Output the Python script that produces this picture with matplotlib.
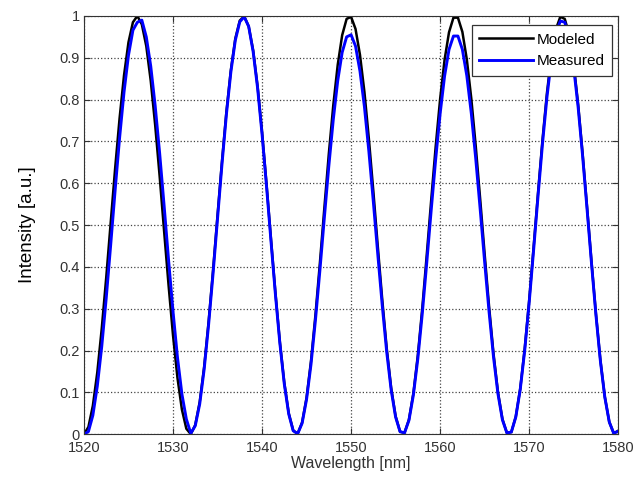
import numpy as np
import matplotlib
matplotlib.use('Agg')
import matplotlib.pyplot as plt

plt.rcParams['font.family'] = ['Liberation Sans', 'DejaVu Sans']

# wavelength samples [nm], 0.5 nm step
wavelength = [1520.0 + 0.5 * i for i in range(121)]

# values
modeled = [
    0.000, 0.017, 0.068, 0.148, 0.253, 0.374, 0.505, 0.635, 0.755, 0.858, 0.937, 0.985,
    1.000, 0.980, 0.928, 0.845, 0.739, 0.617, 0.486, 0.357, 0.237, 0.135, 0.059, 0.013,
    0.000, 0.022, 0.077, 0.161, 0.269, 0.392, 0.523, 0.652, 0.771, 0.871, 0.946, 0.989,
    0.999, 0.975, 0.918, 0.832, 0.723, 0.599, 0.468, 0.339, 0.221, 0.123, 0.050, 0.009,
    0.001, 0.028, 0.087, 0.175, 0.285, 0.410, 0.541, 0.670, 0.786, 0.883, 0.954, 0.993,
    0.998, 0.969, 0.907, 0.818, 0.706, 0.581, 0.449, 0.322, 0.206, 0.111, 0.043, 0.006,
    0.003, 0.035, 0.098, 0.189, 0.302, 0.429, 0.560, 0.687, 0.801, 0.895, 0.961, 0.996,
    0.996, 0.962, 0.896, 0.803, 0.689, 0.562, 0.431, 0.305, 0.192, 0.100, 0.036, 0.003,
    0.005, 0.042, 0.109, 0.204, 0.319, 0.447, 0.578, 0.704, 0.816, 0.906, 0.968, 0.998,
    0.993, 0.955, 0.885, 0.789, 0.672, 0.544, 0.413, 0.288, 0.177, 0.089, 0.029, 0.002,
    0.008,
]

measured = [
    0.000, 0.006, 0.045, 0.115, 0.210, 0.325, 0.452, 0.583, 0.708, 0.818, 0.906, 0.966,
    0.985, 0.990, 0.950, 0.880, 0.785, 0.672, 0.547, 0.417, 0.294, 0.184, 0.096, 0.036,
    0.002, 0.020, 0.072, 0.155, 0.262, 0.384, 0.515, 0.645, 0.765, 0.866, 0.942, 0.986,
    0.998, 0.975, 0.915, 0.828, 0.718, 0.594, 0.463, 0.335, 0.218, 0.120, 0.048, 0.008,
    0.001, 0.026, 0.083, 0.167, 0.273, 0.392, 0.518, 0.641, 0.752, 0.845, 0.913, 0.950,
    0.955, 0.928, 0.868, 0.783, 0.676, 0.556, 0.430, 0.308, 0.197, 0.106, 0.041, 0.006,
    0.003, 0.033, 0.094, 0.181, 0.289, 0.410, 0.536, 0.657, 0.766, 0.856, 0.920, 0.952,
    0.952, 0.920, 0.857, 0.768, 0.659, 0.538, 0.412, 0.292, 0.184, 0.096, 0.034, 0.003,
    0.005, 0.041, 0.107, 0.200, 0.314, 0.440, 0.570, 0.695, 0.806, 0.896, 0.958, 0.988,
    0.985, 0.947, 0.877, 0.782, 0.666, 0.539, 0.409, 0.285, 0.175, 0.088, 0.029, 0.002,
    0.007,
]

xticks = [1520, 1530, 1540, 1550, 1560, 1570, 1580]
yticks = [0, 0.1, 0.2, 0.3, 0.4, 0.5, 0.6, 0.7, 0.8, 0.9, 1]
ytick_labels = ['0', '0.1', '0.2', '0.3', '0.4', '0.5', '0.6', '0.7', '0.8', '0.9', '1']

fig = plt.figure(figsize=(6.36, 4.84), dpi=100)
ax = fig.add_axes([0.132, 0.103, 0.840, 0.864])

ax.plot(wavelength, modeled, color='black', lw=1.8, label='Modeled',
        solid_joinstyle='round')
ax.plot(wavelength, measured, color='blue', lw=2.1, label='Measured',
        solid_joinstyle='round')

ax.set_xlim(1520, 1580)
ax.set_ylim(0, 1)
ax.set_xticks(xticks)
ax.set_xticklabels([str(t) for t in xticks])
ax.set_yticks(yticks)
ax.set_yticklabels(ytick_labels)
ax.tick_params(direction='in', top=True, right=True, length=4, labelsize=10.5,
               colors='#333333')
ax.tick_params(axis='x', pad=5)
ax.tick_params(axis='y', pad=3)
ax.grid(True, linestyle=':', color='#444444', lw=0.9)
for s in ax.spines.values():
    s.set_color('#333333')

ax.set_xlabel('Wavelength [nm]', fontsize=11.5, color='#333333', labelpad=1)
ax.set_ylabel('Intensity [a.u.]', fontsize=13.5, labelpad=17)

leg = ax.legend(loc='upper right', bbox_to_anchor=(0.989, 0.978), borderaxespad=0,
                fancybox=False, framealpha=1, edgecolor='#333333', fontsize=11,
                handlelength=3.5, handletextpad=0.25, borderpad=0.5, labelspacing=0.5)
leg.get_frame().set_linewidth(0.9)

fig.savefig('out.png', dpi=100)
